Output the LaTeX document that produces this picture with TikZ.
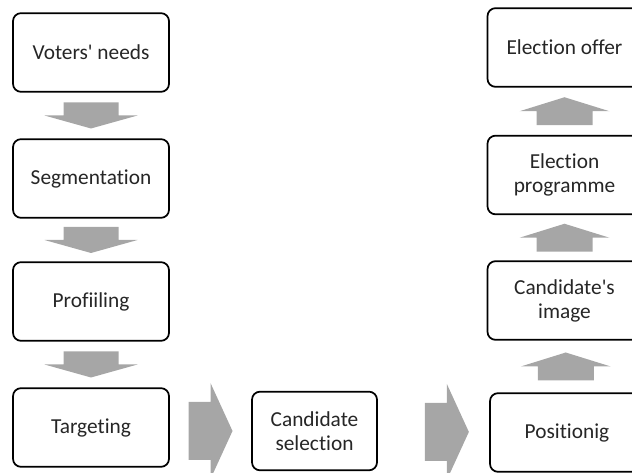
\documentclass[tikz,border=0pt]{standalone}
\usepackage{fontspec}
\setmainfont{Carlito}[Ligatures=NoCommon]
\usetikzlibrary{calc}
\definecolor{arrowgray}{HTML}{A6A6A6}
\definecolor{textgray}{HTML}{262626}
\tikzset{
  stepbox/.style={draw=black, line width=1.3pt, rounded corners=6pt, fill=white,
    align=center, text=textgray, font=\fontsize{16}{18}\selectfont,
    minimum width=117pt, minimum height=59pt, inner sep=2pt},
  downarr/.pic={\fill[arrowgray] (-27.5,-13) -- (27.5,-13) -- (27.5,0) -- (46.5,0)
    -- (0,13) -- (-46.5,0) -- (-27.5,0) -- cycle;},
  uparr/.pic={\fill[arrowgray] (-28,14) -- (28,14) -- (28,0) -- (45,0)
    -- (0,-14) -- (-45,0) -- (-28,0) -- cycle;},
  rightarr/.pic={\fill[arrowgray] (-22,-29) -- (0,-29) -- (0,-48) -- (22,0)
    -- (0,48) -- (0,29) -- (-22,29) -- cycle;},
}
\begin{document}
\begin{tikzpicture}[x=0.75pt, y=-0.75pt] % {{{
\useasboundingbox (0,0) rectangle (632,473);
% Left column   {{{
\node[stepbox] (voters) at (91,52.5) {Voters\textquotesingle{} needs};
\node[stepbox] (segment) at (91,178.5) {Segmentation};
\node[stepbox] (profile) at (91,301.5) {Profiiling};
\node[stepbox] (target) at (91,427.5) {Targeting};
\pic at ($(voters.south)!0.5!(segment.north)$) {downarr};
\pic at ($(segment.south)!0.5!(profile.north)$) {downarr};
\pic at ($(profile.south)!0.5!(target.north)$) {downarr};
% }}}
% Bottom row    {{{
\node[stepbox, minimum width=93.75pt] (cand) at (314.5,431) {Candidate\\selection};
\node[stepbox, minimum width=115.5pt] (pos) at (567,432.5) {Positionig};
\pic at ($(target.east|-cand)!0.5!(cand.west)$) {rightarr};
\pic at ($(cand.east)!0.62!(pos.west)$) {rightarr};
% }}}
% Right column  {{{
\node[stepbox, minimum width=115.5pt] (image) at (564.5,300.5) {Candidate\textquotesingle{}s\\image};
\node[stepbox, minimum width=115.5pt] (program) at (564.5,175) {Election\\programme};
\node[stepbox, minimum width=115.5pt] (offer) at (564.5,47.5) {Election offer};
\pic at ($(pos.north)!0.5!(image.south)$) {uparr};
\pic at ($(image.north)!0.5!(program.south)$) {uparr};
\pic at ($(program.north)!0.5!(offer.south)$) {uparr};
% }}}
\end{tikzpicture} % }}}
\end{document}
